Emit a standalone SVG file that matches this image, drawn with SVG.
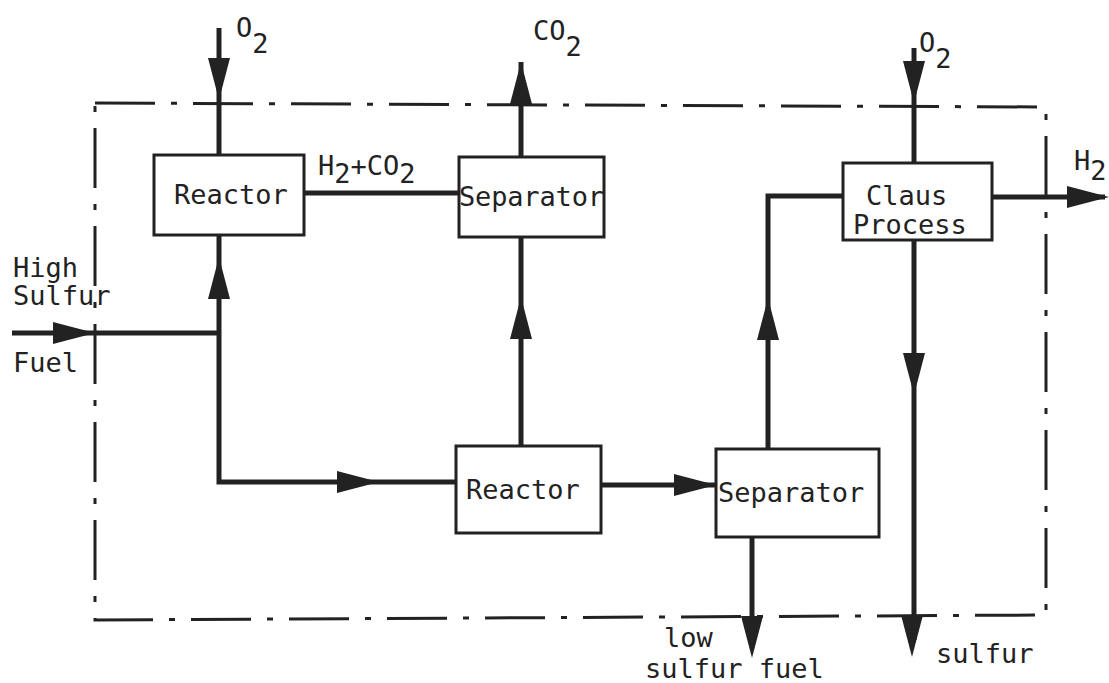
<svg xmlns="http://www.w3.org/2000/svg" width="1109" height="683" viewBox="0 0 1109 683">
<style>
.box{fill:#fff;stroke:#222;stroke-width:3}
.ln{fill:none;stroke:#222;stroke-width:5}
.bd{fill:none;stroke:#222;stroke-width:3;stroke-dasharray:60 16 6 16}
text{font-family:"DejaVu Sans Mono","Liberation Mono",monospace;font-size:27px;fill:#222}
</style>
<defs>
<path id="ah" d="M0,0 L-42,-11 L-42,11 Z" fill="#222"/>
</defs>
<rect width="1109" height="683" fill="#fff"/>
<g id="boundary">
<path class="bd" d="M95,103 L1046,107 L1046,615 L95,620 Z"/>
</g>
<g id="connectors">
<path class="ln" d="M219,28 V154"/>
<path class="ln" d="M304,193 H460"/>
<path class="ln" d="M521,157 V62"/>
<path class="ln" d="M12,333 H219"/>
<path class="ln" d="M219,235 V482 H456"/>
<path class="ln" d="M521,237 V446"/>
<path class="ln" d="M601,485 H716"/>
<path class="ln" d="M768,448 V196 H843"/>
<path class="ln" d="M914,48 V163"/>
<path class="ln" d="M992,197 H1105"/>
<path class="ln" d="M914,240 V640"/>
<path class="ln" d="M752,537 V640"/>
<use href="#ah" transform="translate(219,100) rotate(90)"/>
<use href="#ah" transform="translate(521,62) rotate(-90)"/>
<use href="#ah" transform="translate(95,333)"/>
<use href="#ah" transform="translate(219,257) rotate(-90)"/>
<use href="#ah" transform="translate(521,297) rotate(-90)"/>
<use href="#ah" transform="translate(379,482)"/>
<use href="#ah" transform="translate(716,485)"/>
<use href="#ah" transform="translate(768,298) rotate(-90)"/>
<use href="#ah" transform="translate(914,103) rotate(90)"/>
<use href="#ah" transform="translate(1109,197)"/>
<use href="#ah" transform="translate(914,395) rotate(90)"/>
<use href="#ah" transform="translate(912,657) rotate(90)"/>
<use href="#ah" transform="translate(752,658) rotate(90)"/>
</g>
<g id="reactor1">
<rect class="box" x="154" y="155" width="150" height="80"/>
<text x="174" y="204">Reactor</text>
</g>
<g id="separator1">
<rect class="box" x="459" y="157" width="145" height="80"/>
<text x="459" y="206" textLength="145">Separator</text>
</g>
<g id="reactor2">
<rect class="box" x="456" y="446" width="145" height="87"/>
<text x="466" y="499">Reactor</text>
</g>
<g id="separator2">
<rect class="box" x="716" y="449" width="163" height="88"/>
<text x="718" y="502">Separator</text>
</g>
<g id="claus">
<rect class="box" x="843" y="163" width="149" height="77"/>
<text x="866" y="205" font-size="25">Claus</text>
<text x="853" y="234" font-size="25">Process</text>
</g>
<g id="labels">
<text x="236" y="37">O<tspan dy="16">2</tspan></text>
<text x="533" y="40">CO<tspan dy="16">2</tspan></text>
<text x="919" y="52">O<tspan dy="16">2</tspan></text>
<text x="1074" y="170" font-size="25">H<tspan dy="10">2</tspan></text>
<text x="318" y="175">H<tspan dy="8">2</tspan><tspan dy="-8">+CO</tspan><tspan dy="8">2</tspan></text>
<text x="13" y="277">High</text>
<text x="13" y="305">Sulfur</text>
<text x="13" y="372">Fuel</text>
<text x="664" y="647">low</text>
<text x="645" y="678">sulfur  fuel</text>
<text x="936" y="663">sulfur</text>
</g>
</svg>
